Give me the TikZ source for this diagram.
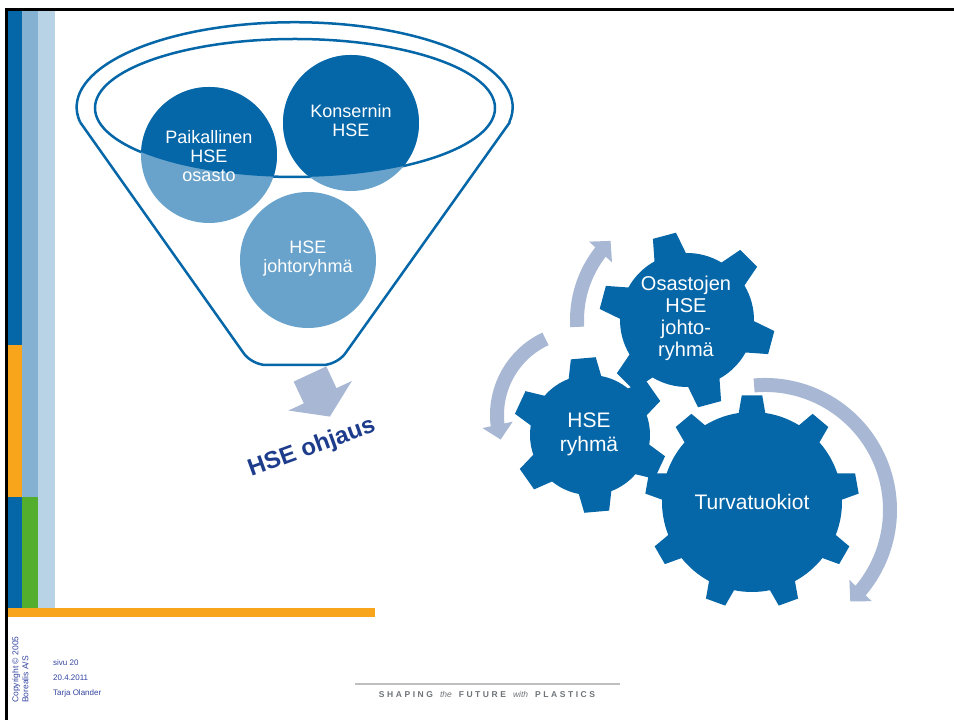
\documentclass[tikz,border=0pt]{standalone}
\usepackage{fontspec}
\setmainfont{Liberation Sans}
\usetikzlibrary{arrows.meta,bending}

\definecolor{hseblue}{RGB}{5,102,168}
\definecolor{hselight}{RGB}{105,163,203}
\definecolor{arrowgrey}{RGB}{168,184,212}
\definecolor{barmid}{RGB}{132,177,210}
\definecolor{barlight}{RGB}{184,211,229}
\definecolor{barorange}{RGB}{249,165,27}
\definecolor{bargreen}{RGB}{82,174,44}
\definecolor{navy}{RGB}{30,60,140}
\definecolor{footblue}{RGB}{51,68,160}
\definecolor{footgrey}{RGB}{110,115,120}

% centre, teeth, inner r, outer r, first tooth, tip half angle, base half angle
\newcommand{\gearshape}[7]{%
  \fill[hseblue, shift={#1}] (#5-#7:#3)
    \foreach \k [evaluate=\k as \a using {#5+(\k-1)*360/#2}] in {1,...,#2}
      { -- (\a-#7:#3) -- (\a-#6:#4) -- (\a+#6:#4) -- (\a+#7:#3)
        arc[start angle=\a+#7, end angle=\a+360/#2-#7, radius=#3] } -- cycle;}

\tikzset{
  funnel/.style={draw=hseblue, line width=2.5pt},
  bubble/.style={text=white, align=center, font=\fontsize{18}{19}\selectfont},
  gearlabel/.style={text=white, align=center, font=\fontsize{20}{22}\selectfont},
  cyclearrow/.style={draw=arrowgrey, line width=14pt, -{Triangle[width=30pt,length=15pt]}},
  footnote/.style={text=footblue, font=\fontsize{8}{9}\selectfont, anchor=west, inner sep=0pt},
}

\begin{document}
\begin{tikzpicture}[x=1pt,y=1pt]
  \useasboundingbox (0,0) rectangle (954,720);
  % side bars
  \fill[hseblue] (8,375) rectangle (22,710);
  \fill[barorange] (8,223) rectangle (22,375);
  \fill[hseblue] (8,110) rectangle (22,223);
  \fill[barmid] (22,223) rectangle (38,710);
  \fill[bargreen] (22,110) rectangle (38,223);
  \fill[barlight] (38,110) rectangle (55,710);
  \fill[barorange] (8,103) rectangle (375,112);
  \draw[line width=3pt] (6.5,0) -- (6.5,710.5) -- (954,710.5);

  % funnel
  \draw[funnel] (295,612) ellipse[x radius=200, y radius=69];
  \draw[funnel] (80,598) arc[start angle=190, end angle=-10, x radius=218, y radius=85];
  \draw[funnel, rounded corners=14pt] (80,598) -- (252,355) -- (337,355) -- (510,598);

  \coordinate (paikc) at (209,565);
  \coordinate (konsc) at (351,597);
  \coordinate (johtoc) at (308,460);
  \fill[hselight] (paikc) circle[radius=68] (konsc) circle[radius=68] (johtoc) circle[radius=68];
  \begin{scope}
    \clip (295,612) ellipse[x radius=200, y radius=69];
    \fill[hseblue] (paikc) circle[radius=68] (konsc) circle[radius=68];
  \end{scope}
  \node[bubble] (paik) at (209,564) {Paikallinen\\HSE\\osasto};
  \node[bubble] (kons) at (351,599) {Konsernin\\HSE};
  \node[bubble] (johto) at (308,461) {HSE\\johtoryhmä};

  % arrow out of the funnel
  \fill[arrowgrey, shift={(310,346)}, rotate=25]
    (-18,0) -- (18,0) -- (18,-24) -- (35,-24) -- (0,-47) -- (-35,-24) -- (-18,-24) -- cycle;
  \node[text=navy, rotate=20, font=\fontsize{24}{26}\selectfont\bfseries] (ohjaus) at (312,272) {HSE ohjaus};

  % gears
  \coordinate (osc) at (687,400);
  \coordinate (ryc) at (590,285);
  \coordinate (tuc) at (752,218);
  \draw[cyclearrow] (osc) ++(183.6:110) arc[start angle=183.6, end angle=134, radius=110];
  \draw[cyclearrow] (581,305) ++(115:84) arc[start angle=115, end angle=197, radius=84];
  \draw[cyclearrow] (765,210) ++(95:125) arc[start angle=95, end angle=-47, radius=125];
  \gearshape{(tuc)}{9}{90}{107}{90}{5.5}{8.5}
  \gearshape{(osc)}{6}{67}{88}{105}{7.8}{14}
  \gearshape{(ryc)}{6}{60}{78}{35}{9.2}{15.8}
  \node[gearlabel] (osastot) at (686,402) {Osastojen\\HSE\\johto-\\ryhmä};
  \node[gearlabel, font=\fontsize{21}{24}\selectfont] (ryhma) at (589,286) {HSE\\ryhmä};
  \node[gearlabel, font=\fontsize{21}{24}\selectfont] (turva) at (tuc) {Turvatuokiot};

  % footer
  \node[text=footblue, font=\fontsize{8.5}{10}\selectfont, rotate=90, anchor=north west,
    align=left, inner sep=0pt] (copy) at (12,17) {Copyright © 2005\\Borealis A/S};
  \node[footnote] (sivu) at (53,57) {sivu 20};
  \node[footnote] (pvm) at (53,42) {20.4.2011};
  \node[footnote] (tekija) at (53,27) {Tarja Olander};
  \draw[color=black!25, line width=1.5pt] (355,36) -- (620,36);
  \node[text=footgrey, font=\fontsize{8.5}{9}\selectfont] (slogan) at (487,26)
    {{\bfseries\addfontfeature{LetterSpace=30}SHAPING}\hspace{7pt}\textit{the}\hspace{7pt}%
     {\bfseries\addfontfeature{LetterSpace=30}FUTURE}\hspace{7pt}\textit{with}\hspace{7pt}%
     {\bfseries\addfontfeature{LetterSpace=30}PLASTICS}};
\end{tikzpicture}
\end{document}
